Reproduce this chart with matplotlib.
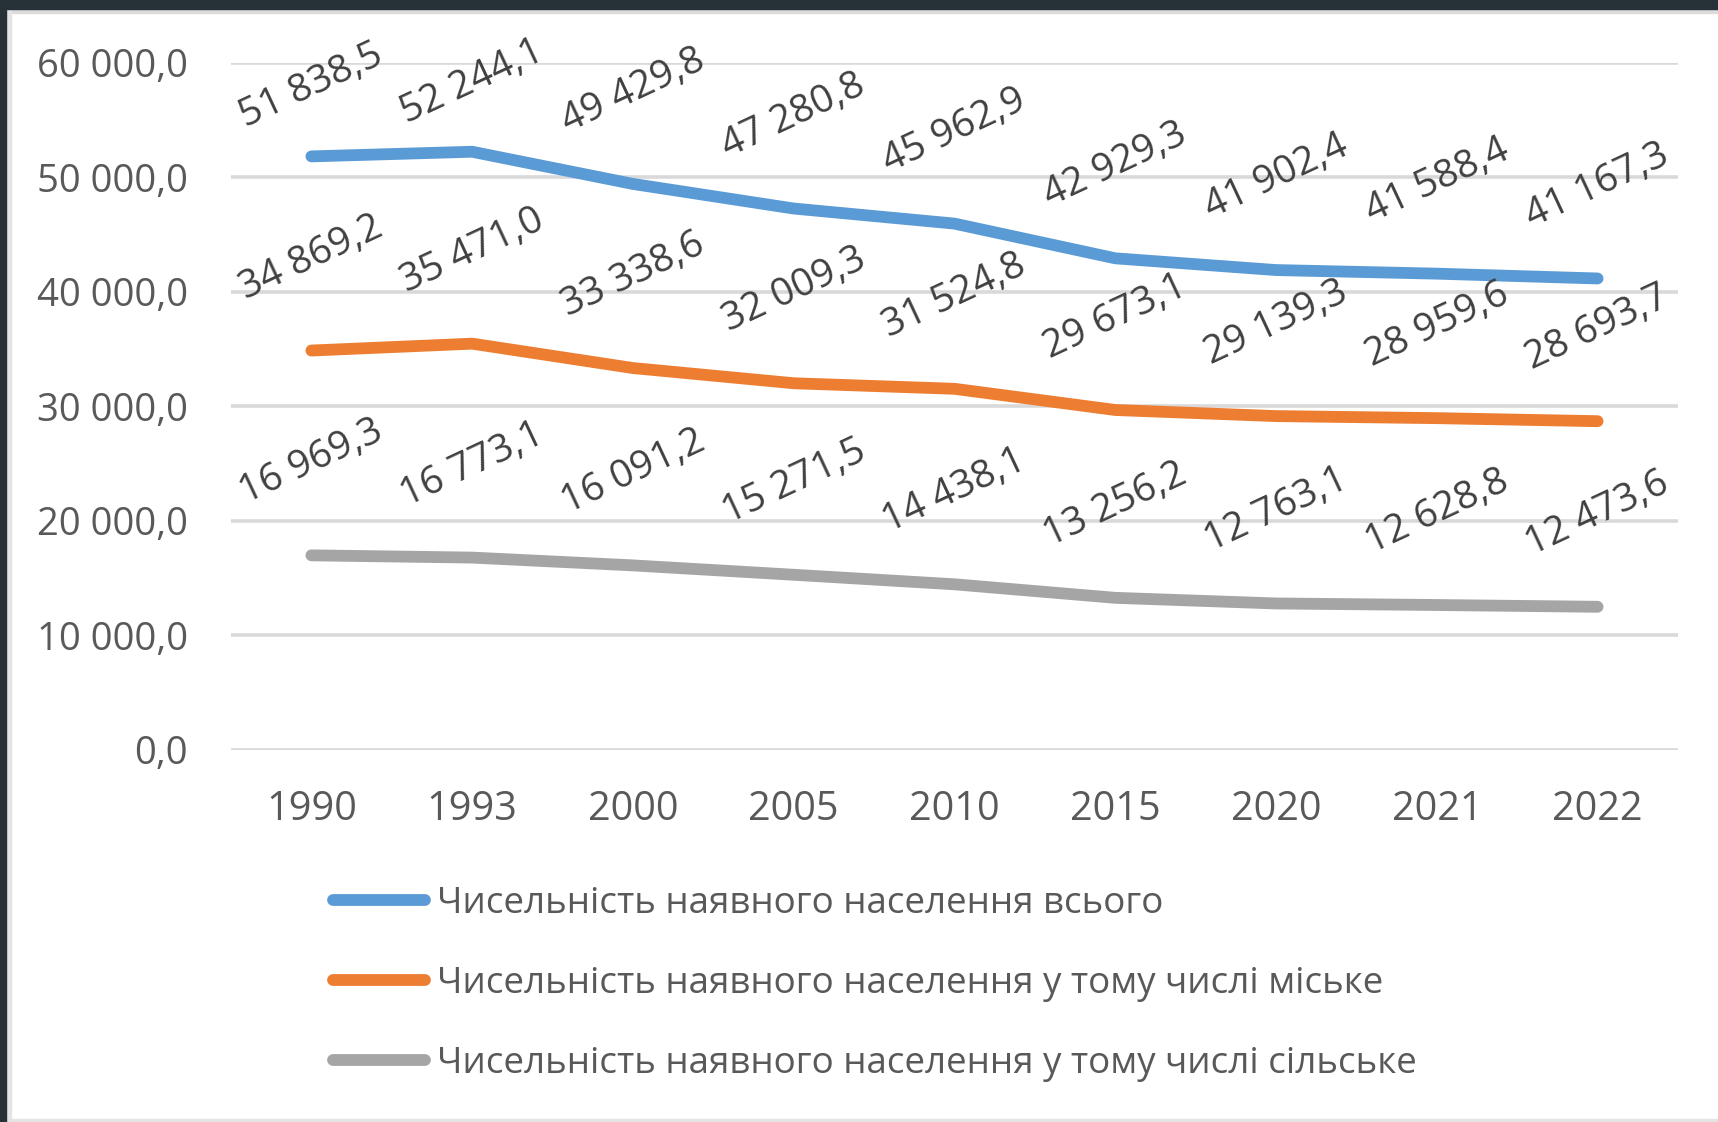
import numpy as np
import matplotlib.pyplot as plt
from matplotlib.patches import Rectangle
from matplotlib.ticker import FuncFormatter
# ================================================
years = ['1990', '1993', '2000', '2005', '2010', '2015', '2020', '2021', '2022']
total = [51838.5, 52244.1, 49429.8, 47280.8, 45962.9, 42929.3, 41902.4, 41588.4, 41167.3]
urban = [34869.2, 35471.0, 33338.6, 32009.3, 31524.8, 29673.1, 29139.3, 28959.6, 28693.7]
rural = [16969.3, 16773.1, 16091.2, 15271.5, 14438.1, 13256.2, 12763.1, 12628.8, 12473.6]
names = ['Чисельність наявного населення всього',
         'Чисельність наявного населення у тому числі міське',
         'Чисельність наявного населення у тому числі сільське']
# ================================================
colors = ['#5B9BD5', '#ED7D31', '#A5A5A5']
W, H   = 1718, 1122
FONT   = 'Open Sans'
plt.rcParams['font.family'] = [FONT, 'DejaVu Sans']

def ua_fmt(v, pos=None):
    return f"{v:,.1f}".replace(',', ' ').replace('.', ',')

fig = plt.figure(figsize=(W/100, H/100), dpi=100)
ax  = fig.add_axes([231/W, 1 - 749.5/H, (1678 - 231)/W, (749.5 - 63)/H])

x = np.arange(len(years))
for vals, c, lab in zip([total, urban, rural], colors, names):
    ax.plot(x, vals, color=c, lw=8.5, solid_capstyle='round', solid_joinstyle='round', label=lab, zorder=3)

# data labels, rotated like the original; the first two top labels sit lower to stay inside
shift = {(0, 0): 70, (0, 1): 70}
for s, vals in enumerate([total, urban, rural]):
    for i, v in enumerate(vals):
        dy = shift.get((s, i), 93)
        ax.annotate(ua_fmt(v), (x[i], v), xytext=(0, dy), textcoords='offset pixels',
                    ha='center', va='center', rotation=25, fontsize=28, color='#404040', zorder=4)

ax.set_xlim(-0.5, len(years) - 0.5)
ax.set_ylim(0, 60000)
ax.set_yticks(np.arange(0, 60001, 10000))
ax.yaxis.set_major_formatter(FuncFormatter(ua_fmt))
ax.set_xticks(x)
ax.set_xticklabels(years)
ax.tick_params(axis='y', length=0, pad=31, labelsize=27.5, labelcolor='#595959')
ax.tick_params(axis='x', length=0, pad=29, labelsize=28.5, labelcolor='#595959')
ax.grid(axis='y', color='#D9D9D9', lw=2.6, zorder=0)
ax.set_axisbelow(True)
for sp in ax.spines.values():
    sp.set_visible(False)

fig.legend(loc='upper left', bbox_to_anchor=(333/W, 1 - 886/H), frameon=False, fontsize=26.5,
           handlelength=2.5, handletextpad=0.33, labelspacing=1.2, borderpad=0, borderaxespad=0,
           labelcolor='#595959')

# frame of the screenshot
fig.patches.append(Rectangle((0, 1 - 9/H), 1, 9/H, transform=fig.transFigure, color='#263238', zorder=10))
fig.patches.append(Rectangle((0, 0), 6/W, 1, transform=fig.transFigure, color='#263238', zorder=10))
fig.patches.append(Rectangle((6/W, 1 - 13/H), 1, 4/H, transform=fig.transFigure, color='#DCDCDC', zorder=9))
fig.patches.append(Rectangle((6/W, 0), 5/W, 1 - 9/H, transform=fig.transFigure, color='#E4E4E4', zorder=9))
fig.patches.append(Rectangle((6/W, 0), 1, 3/H, transform=fig.transFigure, color='#E4E4E4', zorder=9))

plt.savefig('out.png', dpi=100)
plt.close()
